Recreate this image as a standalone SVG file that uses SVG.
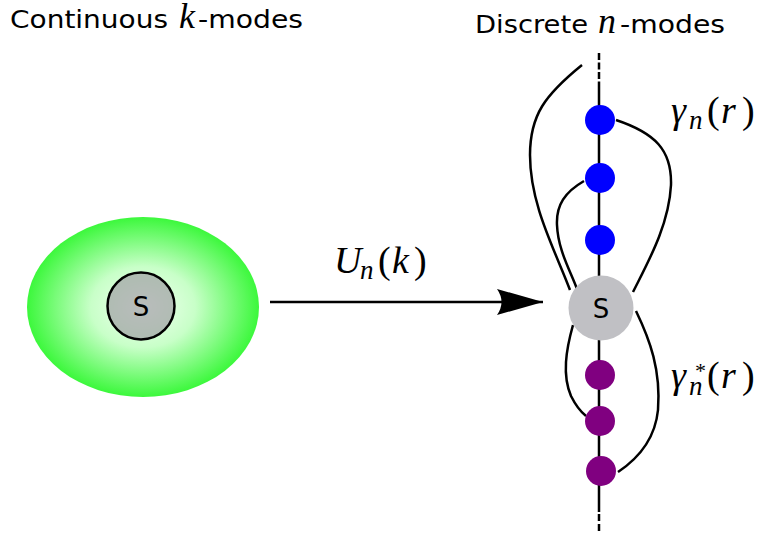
<svg xmlns="http://www.w3.org/2000/svg" width="772" height="537" viewBox="0 0 772 537">
<defs>
<radialGradient id="glow" cx="0.5" cy="0.5" r="0.5">
<stop offset="0" stop-color="#f4fff4"/>
<stop offset="0.45" stop-color="#c8ffc8"/>
<stop offset="1" stop-color="#3cf83c"/>
</radialGradient>
<marker id="head" markerUnits="userSpaceOnUse" viewBox="0 0 46 26" refX="46" refY="13" markerWidth="46" markerHeight="26" orient="auto">
<path d="M46,13 L0,0 Q9,13 0,26 Z" fill="#000"/>
</marker>
<style>
.title{font-family:"DejaVu Sans",sans-serif;font-size:25px;fill:#000}
.math{font-family:"Liberation Serif","DejaVu Serif",serif;font-style:italic;fill:#000}
.up{font-style:normal}
.lbl{font-family:"DejaVu Sans",sans-serif;font-size:26px;fill:#000;text-anchor:middle}
.wire{fill:none;stroke:#000;stroke-width:2.5}
.blue{fill:#0000ff}
.purple{fill:#800080}
</style>
</defs>
<rect width="772" height="537" fill="#fff"/>

<text class="title" x="10" y="28" textLength="158" lengthAdjust="spacingAndGlyphs">Continuous</text>
<text class="math" x="179" y="28" font-size="36">k</text>
<text class="title" x="198" y="28" textLength="105" lengthAdjust="spacingAndGlyphs">-modes</text>
<text class="title" x="475" y="33" font-size="26" textLength="113" lengthAdjust="spacingAndGlyphs">Discrete</text>
<text class="math" x="598" y="33" font-size="36">n</text>
<text class="title" x="620" y="33" font-size="26" textLength="105" lengthAdjust="spacingAndGlyphs">-modes</text>

<g id="connectors">
<line class="wire" x1="599" y1="53" x2="599" y2="88" stroke-dasharray="7,2.5"/>
<line class="wire" x1="599" y1="88" x2="599" y2="512"/>
<line class="wire" x1="599" y1="514" x2="599" y2="532" stroke-dasharray="7,3"/>
<path class="wire" d="M582,65 C545,95 530,115 530,155 C530,205 555,250 570,290"/>
<path class="wire" d="M584,181 C565,192 556,205 557,225 C558,250 570,270 577,289"/>
<path class="wire" d="M616,120 C655,133 672,150 671,185 C669,225 648,262 633,292"/>
<path class="wire" d="M573,325 C566,350 562,375 571,396 C576,406 581,412 586,416"/>
<path class="wire" d="M636,311 C650,340 661,370 658,410 C655,440 636,460 618,472"/>
<line x1="270" y1="302" x2="543" y2="302" stroke="#000" stroke-width="2.5" marker-end="url(#head)"/>
</g>

<g id="continuum">
<ellipse cx="143" cy="307" rx="116" ry="90" fill="url(#glow)"/>
</g>
<g id="s-left">
<circle cx="141" cy="306" r="33.5" fill="#a0a0a4" fill-opacity="0.7" stroke="#000" stroke-width="2.5"/>
<text class="lbl" x="141" y="316">S</text>
</g>

<g id="blue-1"><circle class="blue" cx="600" cy="120" r="15"/></g>
<g id="blue-2"><circle class="blue" cx="600" cy="178" r="15"/></g>
<g id="blue-3"><circle class="blue" cx="600" cy="240" r="15"/></g>
<g id="s-right">
<circle cx="601" cy="308" r="32.5" fill="#c0c0c4"/>
<text class="lbl" x="601" y="318">S</text>
</g>
<g id="purple-1"><circle class="purple" cx="600" cy="375" r="15"/></g>
<g id="purple-2"><circle class="purple" cx="600" cy="421" r="15"/></g>
<g id="purple-3"><circle class="purple" cx="601" cy="471" r="15"/></g>

<text class="math" y="273" font-size="38"><tspan x="334">U</tspan><tspan x="360" y="279" font-size="27">n</tspan><tspan class="up" x="378" y="273">(</tspan><tspan x="392">k</tspan><tspan class="up" x="414">)</tspan></text>
<text class="math" y="123" font-size="38"><tspan x="671">γ</tspan><tspan x="689" y="129" font-size="27">n</tspan><tspan class="up" x="707" y="123">(</tspan><tspan x="721">r</tspan><tspan class="up" x="742">)</tspan></text>
<text class="math" y="388" font-size="38"><tspan x="671">γ</tspan><tspan x="689" y="395" font-size="27">n</tspan><tspan class="up" x="695" y="378" font-size="22">*</tspan><tspan class="up" x="707" y="388" font-size="38">(</tspan><tspan x="721">r</tspan><tspan class="up" x="742">)</tspan></text>
</svg>
